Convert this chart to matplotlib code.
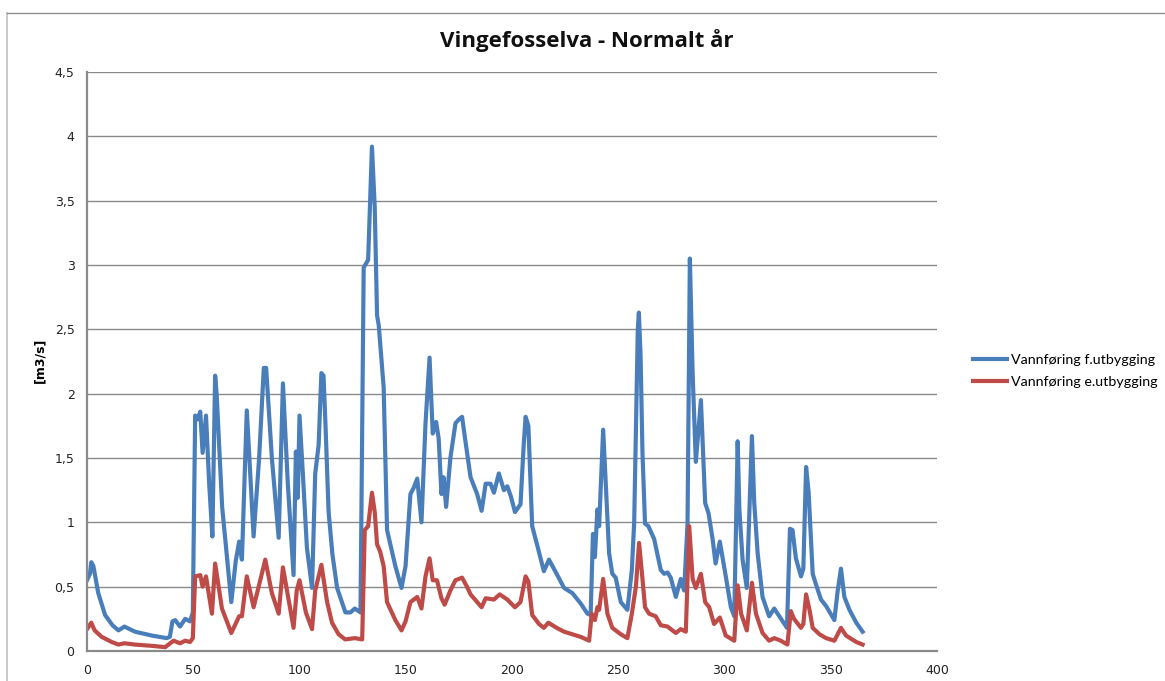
import matplotlib
matplotlib.use("Agg")
import matplotlib.pyplot as plt
import matplotlib.lines as mlines
from matplotlib.ticker import FuncFormatter

# day / value pairs
before_days = [0, 1.4, 2, 3, 5.3, 8.5, 12, 14.8, 17.6, 22.6, 30.5, 37.5, 39, 40.2, 41.5, 43.8, 46.2, 48.5, 49.8,
               50.9, 52, 53.3, 54.4, 56, 57.5, 59, 60.3, 61, 63.6, 67.9, 70, 71.6, 72.9, 75.2, 78.4, 81, 83.2,
               84.3, 87, 90.2, 92.2, 94.5, 97.2, 98.3, 99.2, 100, 101.5, 103.5, 105.9, 107.4, 109, 110.3, 111.3,
               112.2, 113.7, 115.5, 117.7, 121.6, 124, 126, 128.7, 130.2, 132.3, 134.1, 135.4, 136.5, 137.3,
               139.6, 141.2, 145.1, 148, 149.9, 152.2, 153.8, 155.4, 157.4, 159.3, 161.2, 162.7, 164.3, 165.5,
               166.8, 167.8, 169, 171, 173.4, 175, 176.5, 178, 180.5, 183.6, 185.7, 187.6, 189.9, 191.5, 193.8,
               196.2, 197.8, 199.5, 201.4, 204, 205.5, 206.4, 207.7, 209.5, 211.9, 215, 217.4, 221, 224.5,
               228.4, 232.3, 235.5, 237, 238.1, 239, 240.2, 241, 242.9, 244.2, 245.7, 247.2, 248.8, 251.2,
               254.3, 256.4, 257.5, 259.2, 259.7, 260.5, 261.4, 262.6, 264.2, 266.9, 270, 271.6, 273.2, 274.7,
               277.1, 279.4, 281, 282.6, 283.7, 285, 286.5, 288.9, 290.9, 292.5, 294.4, 295.8, 297.8, 300.6,
               303, 304.6, 306.2, 307, 308.5, 310.5, 312.9, 314, 315.6, 317.9, 321, 323.4, 325.8, 329.4, 330.8,
               332, 333.6, 336, 337.1, 338.4, 339.6, 341.5, 343, 345.4, 347.8, 351.7, 353.2, 354.8, 356.4,
               358.8, 362, 365]
before_flow = [0.55, 0.6, 0.69, 0.66, 0.45, 0.28, 0.2, 0.16, 0.19, 0.15, 0.12, 0.10, 0.11, 0.23, 0.24, 0.19, 0.25,
               0.23, 0.3, 1.83, 1.8, 1.86, 1.54, 1.83, 1.3, 0.89, 2.14, 2.0, 1.12, 0.38, 0.7, 0.85, 0.71, 1.87,
               0.89, 1.5, 2.2, 2.2, 1.5, 0.88, 2.08, 1.3, 0.59, 1.55, 1.19, 1.83, 1.4, 0.8, 0.49, 1.38, 1.6,
               2.16, 2.14, 1.77, 1.08, 0.75, 0.49, 0.30, 0.3, 0.33, 0.30, 2.98, 3.04, 3.92, 3.45, 2.61, 2.53,
               2.05, 0.94, 0.66, 0.49, 0.66, 1.22, 1.27, 1.34, 1.0, 1.77, 2.28, 1.69, 1.78, 1.65, 1.22, 1.35,
               1.12, 1.5, 1.77, 1.8, 1.82, 1.64, 1.35, 1.22, 1.09, 1.3, 1.3, 1.23, 1.38, 1.25, 1.28, 1.2, 1.08,
               1.14, 1.6, 1.82, 1.75, 0.97, 0.82, 0.62, 0.71, 0.6, 0.49, 0.45, 0.37, 0.29, 0.28, 0.91, 0.73,
               1.1, 0.97, 1.72, 1.27, 0.76, 0.60, 0.57, 0.38, 0.32, 0.63, 1.0, 2.5, 2.63, 2.3, 1.54, 0.99,
               0.97, 0.87, 0.63, 0.6, 0.61, 0.57, 0.42, 0.56, 0.47, 0.99, 3.05, 2.16, 1.47, 1.95, 1.15, 1.07,
               0.87, 0.68, 0.85, 0.58, 0.34, 0.27, 1.63, 1.1, 0.71, 0.49, 1.67, 1.15, 0.76, 0.42, 0.27, 0.33,
               0.27, 0.18, 0.95, 0.94, 0.72, 0.58, 0.64, 1.43, 1.23, 0.6, 0.52, 0.4, 0.35, 0.24, 0.46, 0.64,
               0.42, 0.32, 0.22, 0.15]

after_days = [0, 2, 3.6, 6.9, 11.6, 14.8, 17.6, 22.6, 30.5, 36.8, 40.7, 43.8, 46.2, 48.5, 49.8, 50.9, 53.3, 54.4,
              56, 58.8, 60.3, 63.5, 67.9, 71.6, 72.9, 75.2, 78.4, 83.9, 87, 90.2, 92.2, 97.2, 98.7, 100, 103,
              105.9, 107.4, 110.3, 113, 115.3, 118.4, 121.5, 126, 129.5, 130.7, 132.3, 134.1, 135.4, 136.5, 138,
              139.6, 141.2, 145.1, 148, 149.9, 152.2, 155.4, 157.4, 159.3, 161.2, 162.7, 164.7, 166.8, 168.3,
              171, 173.4, 176.5, 178.8, 180.5, 183.6, 185.7, 187.6, 191.5, 194.2, 197.8, 201.4, 204, 206.4,
              207.7, 209.5, 212.7, 215, 217.1, 221, 224.5, 228.4, 232.3, 236.3, 237.5, 239, 240.2, 241, 242.9,
              244.9, 247.2, 251.2, 254.3, 256.4, 258.3, 259.8, 261.4, 262.6, 264.5, 267.6, 270, 273.2, 274.7,
              277.1, 279.4, 281.8, 283.4, 285, 286.5, 288.9, 290.9, 292.8, 295.1, 297.8, 300.6, 304.6, 306.2,
              307.8, 310.5, 312.9, 314.8, 317.9, 321, 323.4, 326.5, 329.6, 331.2, 332.7, 336, 337.1, 338.4,
              340, 341.5, 344.7, 347.8, 351.7, 354.8, 357.2, 362, 365]
after_flow = [0.17, 0.22, 0.16, 0.11, 0.07, 0.05, 0.06, 0.05, 0.04, 0.03, 0.08, 0.06, 0.08, 0.07, 0.1, 0.58, 0.59,
              0.5, 0.58, 0.29, 0.68, 0.33, 0.14, 0.27, 0.27, 0.58, 0.34, 0.71, 0.45, 0.29, 0.65, 0.18, 0.47,
              0.55, 0.3, 0.17, 0.47, 0.67, 0.38, 0.22, 0.13, 0.09, 0.1, 0.09, 0.94, 0.97, 1.23, 1.08, 0.83,
              0.77, 0.66, 0.38, 0.24, 0.16, 0.23, 0.38, 0.42, 0.33, 0.58, 0.72, 0.55, 0.55, 0.41, 0.36, 0.47,
              0.55, 0.57, 0.5, 0.44, 0.38, 0.34, 0.41, 0.4, 0.44, 0.4, 0.34, 0.38, 0.58, 0.54, 0.28, 0.21,
              0.18, 0.22, 0.18, 0.15, 0.13, 0.11, 0.08, 0.29, 0.24, 0.34, 0.32, 0.56, 0.29, 0.18, 0.13, 0.1,
              0.29, 0.5, 0.84, 0.56, 0.34, 0.29, 0.27, 0.2, 0.19, 0.17, 0.14, 0.17, 0.15, 0.97, 0.56, 0.49,
              0.6, 0.38, 0.34, 0.21, 0.26, 0.12, 0.08, 0.51, 0.29, 0.16, 0.53, 0.29, 0.14, 0.08, 0.1, 0.08,
              0.05, 0.31, 0.25, 0.18, 0.21, 0.44, 0.32, 0.18, 0.13, 0.1, 0.08, 0.18, 0.12, 0.07, 0.05]

series_names = ["Vannføring f.utbygging", "Vannføring e.utbygging"]
series_colors = ["#4A7EBB", "#BE4B48"]
x_ticks = [0, 50, 100, 150, 200, 250, 300, 350, 400]
y_ticks = [0, 0.5, 1, 1.5, 2, 2.5, 3, 3.5, 4, 4.5]

W, H = 1165, 681
fig = plt.figure(figsize=(W / 100, H / 100), dpi=100)
ax = fig.add_axes([87 / W, 1 - 651 / H, (937 - 87) / W, (651 - 72) / H])

ax.plot(before_days, before_flow, color=series_colors[0], lw=3, solid_joinstyle="round")
ax.plot(after_days, after_flow, color=series_colors[1], lw=3, solid_joinstyle="round")

ax.set_xlim(0, 400)
ax.set_ylim(0, 4.5)
ax.set_xticks(x_ticks)
ax.set_yticks(y_ticks)
ax.yaxis.set_major_formatter(FuncFormatter(lambda v, p: ("%g" % v).replace(".", ",")))
ax.grid(axis="y", color="#8a8a8a", lw=1)
ax.set_axisbelow(True)
for s in ["top", "right"]:
    ax.spines[s].set_visible(False)
for s in ["left", "bottom"]:
    ax.spines[s].set_color("#8a8a8a")
    ax.spines[s].set_linewidth(1.6)
ax.tick_params(length=0, labelsize=9, colors="#222222", pad=9)

fig.text(587 / W, 1 - 41 / H, "Vingefosselva - Normalt år", ha="center", va="center",
         fontsize=16, fontweight="bold", family="Open Sans", color="#111111")
fig.text(40 / W, 1 - 360 / H, "[m3/s]", rotation=90, ha="center", va="center",
         fontsize=9, fontweight="bold")

handles = [mlines.Line2D([], [], color=c, lw=3) for c in series_colors]
fig.legend(handles, series_names, loc="center left", bbox_to_anchor=(960 / W, 1 - 371 / H),
           frameon=False, handlelength=2.4, handletextpad=0.25, labelspacing=0.75,
           prop={"family": "Lato", "size": 10.3})

# outer chart border (left and top edges visible)
fig.add_artist(mlines.Line2D([7 / W, 7 / W], [0, 1 - 13 / H], color="#c0c0c0", lw=1.2))
fig.add_artist(mlines.Line2D([7 / W, 1], [1 - 13 / H, 1 - 13 / H], color="#909090", lw=1.0))

fig.savefig("out.png", dpi=100)
